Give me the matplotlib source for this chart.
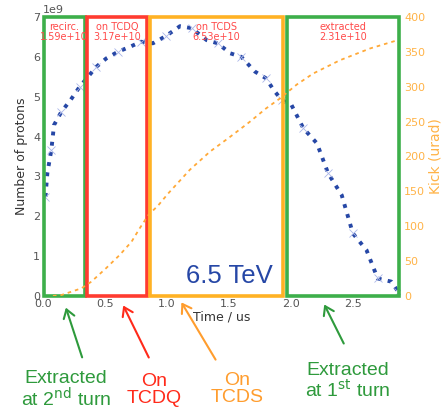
import matplotlib

matplotlib.use("Agg")
import matplotlib.pyplot as plt
from matplotlib.patches import FancyArrowPatch, Rectangle

# number of protons vs time (1e9)
time_us = [0.02, 0.035, 0.067, 0.089, 0.148, 0.223, 0.296, 0.363, 0.43, 0.51, 0.605,
           0.70, 0.79, 0.887, 0.99, 1.105, 1.20, 1.32, 1.41, 1.51, 1.60, 1.71, 1.80,
           1.86, 1.925, 2.005, 2.10, 2.21, 2.30, 2.41, 2.50, 2.61, 2.70, 2.81, 2.865]
protons_e9 = [2.49, 3.08, 3.66, 4.29, 4.62, 4.92, 5.25, 5.50, 5.75, 5.96, 6.13,
              6.25, 6.38, 6.34, 6.52, 6.77, 6.72, 6.42, 6.34, 6.09, 6.00, 5.63, 5.46,
              5.17, 4.92, 4.79, 4.21, 3.83, 3.08, 2.53, 1.57, 1.15, 0.44, 0.36, 0.11]

# kicker waveform (urad)
kick_time = [0.08, 0.15, 0.31, 0.39, 0.51, 0.62, 0.715, 0.78, 0.85, 0.93, 1.01, 1.185,
             1.347, 1.508, 1.67, 1.80, 1.91, 2.046, 2.18, 2.395, 2.64, 2.865]
kick_urad = [0, 1.4, 11, 20.5, 40, 59, 78, 97, 116, 130, 147, 181,
             207, 228, 250, 269, 283, 303, 319, 338, 355, 367]

# regions: (start, end, label, count, colour)
region_start = [0.005, 0.355, 0.865, 1.97]
region_end = [0.335, 0.84, 1.935, 2.875]
region_label = ["recirc.", "on TCDQ", "on TCDS", "extracted"]
region_count = ["1.59e+10", "3.17e+10", "6.53e+10", "2.31e+10"]
region_color = ["#3daf4a", "#ff3b30", "#ffb224", "#3daf4a"]

GREEN_TXT = "#2e9a3c"
RED_TXT = "#ff2a1a"
ORANGE_TXT = "#ff9d2e"
KICK_COLOR = "#ffb347"
BLUE = "#2647a6"

fig = plt.figure(figsize=(4.41, 4.12), dpi=100)
ax = fig.add_axes([0.0975, 0.2816, 0.8095, 0.6771])
ax2 = ax.twinx()

ax.plot(time_us, [p * 1e9 for p in protons_e9], linestyle=":", lw=2.8, color=BLUE, zorder=3)
ax.plot(time_us[::2], [p * 1e9 for p in protons_e9[::2]], linestyle="none", marker="x",
        ms=6, mew=0.6, color="#aab6e8", zorder=4)
ax2.plot(kick_time, kick_urad, lw=1.3, color="#ffa938", dashes=(2, 2.2))

ax.set_xlim(0, 2.88)
ax.set_ylim(0, 7e9)
ax2.set_ylim(0, 400)

for x0, x1, lab, cnt, col in zip(region_start, region_end, region_label, region_count, region_color):
    ax.add_patch(Rectangle((x0, 0.0), x1 - x0, 7e9, fill=False, edgecolor=col, lw=2.6,
                           clip_on=False, zorder=5))
    ax.text((x0 + x1) / 2, 6.87e9, lab + "\n" + cnt, ha="center", va="top", fontsize=7,
            color="#ff4a4a", linespacing=1.0, zorder=6)

ax.text(1.85, 0.2e9, "6.5 TeV", ha="right", va="bottom", fontsize=18.5, color=BLUE,
        family="Liberation Sans")

for a in (ax, ax2):
    for s in a.spines.values():
        s.set_visible(False)
ax.tick_params(length=0, labelsize=8, colors="#555555", pad=2)
ax2.tick_params(length=0, labelsize=8, colors=KICK_COLOR, pad=3)
ax.set_xticks([0.0, 0.5, 1.0, 1.5, 2.0, 2.5])
ax.set_yticks([i * 1e9 for i in range(8)])
ax.yaxis.get_offset_text().set_fontsize(8)
ax.yaxis.get_offset_text().set_color("#555555")
ax.set_xlabel("Time / us", fontsize=9, color="#333333", labelpad=1)
ax.set_ylabel("Number of protons", fontsize=9, color="#333333", labelpad=4)
ax2.set_ylabel("Kick (urad)", fontsize=10, color=KICK_COLOR, labelpad=2)

# annotations below the axes (figure pixel positions)
W, H = 441, 412
notes = [
    ("Extracted\nat 2$^{\\rm nd}$ turn", GREEN_TXT, (66, 390), (83, 360), (65, 305)),
    ("On\nTCDQ", RED_TXT, (154, 390), (150, 360), (122, 303)),
    ("On\nTCDS", ORANGE_TXT, (237, 389), (217, 362), (180, 300)),
    ("Extracted\nat 1$^{\\rm st}$ turn", GREEN_TXT, (348, 381), (345, 346), (323, 302)),
]
for txt, col, tpos, tail, head in notes:
    fig.text(tpos[0] / W, 1 - tpos[1] / H, txt, ha="center", va="center", fontsize=14,
             color=col, family="Liberation Sans", linespacing=1.0)
    fig.add_artist(FancyArrowPatch(
        (tail[0] / W, 1 - tail[1] / H), (head[0] / W, 1 - head[1] / H),
        transform=fig.transFigure, arrowstyle="->,head_length=6,head_width=4",
        color=col, lw=1.5))

fig.savefig("out.png", dpi=100)
